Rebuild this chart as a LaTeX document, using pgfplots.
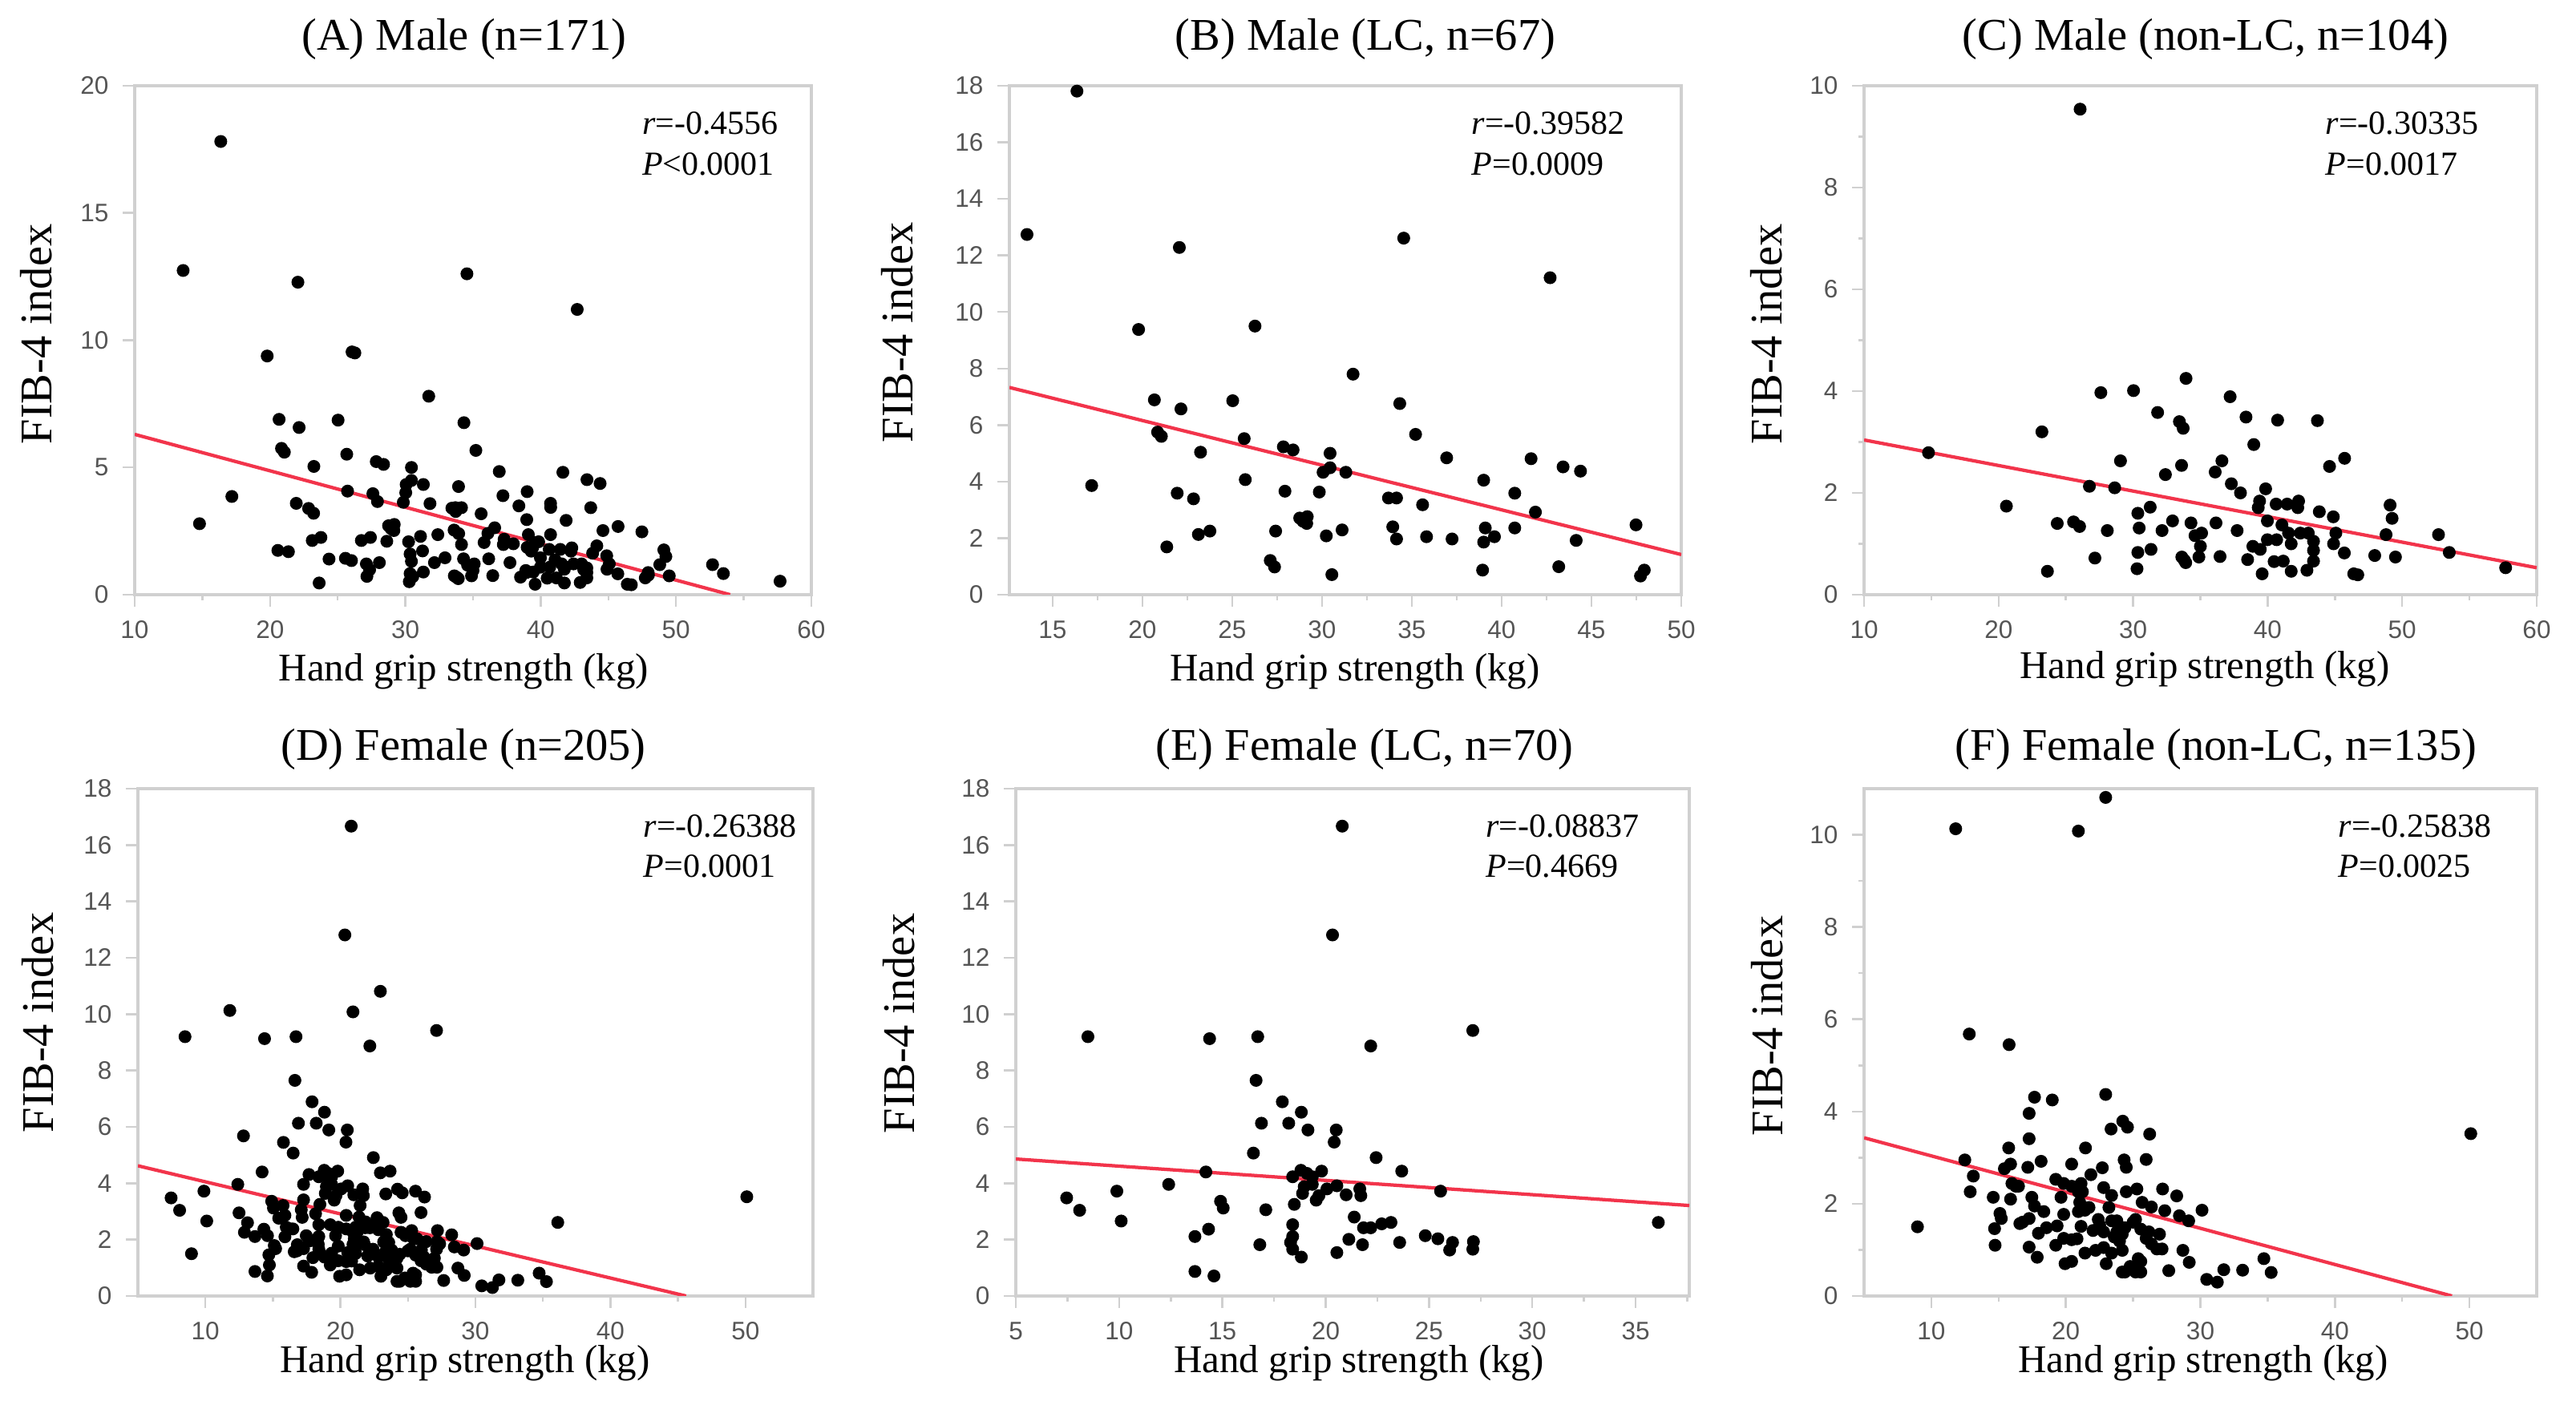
\documentclass[border=0pt]{standalone}
\usepackage{fontspec}
\setmainfont{Liberation Serif}
\newfontfamily\tickfont{Liberation Sans}
\usepackage{pgfplots}
\usepackage{pgfplotstable}
\pgfplotsset{compat=1.18}
\definecolor{framegray}{RGB}{208,208,208}
\definecolor{tickgray}{RGB}{85,85,85}
\definecolor{regred}{RGB}{242,52,75}

\pgfplotstableread{
x y
16.36 17.81
13.58 12.74
22.06 12.28
34.55 12.61
42.7 11.21
19.79 9.38
26.27 9.50
31.73 7.80
20.67 6.89
25.03 6.86
34.33 6.76
22.15 6.57
35.21 5.67
20.85 5.75
21.06 5.60
25.67 5.52
23.24 5.04
27.85 5.23
28.39 5.12
30.45 5.00
30.06 4.33
30.45 4.49
31.33 4.33
36.94 4.84
41.64 4.81
43.42 4.52
44.39 4.37
17.18 3.86
25.73 4.07
39.0 4.05
21.94 3.59
22.85 3.39
27.94 3.66
29.85 3.63
40.73 3.59
33.7 3.42
34.15 3.42
35.6 3.18
41.88 2.92
28.76 2.71
28.94 2.60
29.18 2.76
29.15 2.52
23.12 2.13
23.76 2.25
27.42 2.25
30.24 2.08
31.12 2.29
33.94 2.40
34.15 1.97
35.82 2.05
37.24 1.97
39.09 2.36
39.0 1.86
39.6 2.05
40.73 2.36
44.15 1.92
47.48 2.47
21.36 1.69
27.12 1.21
27.36 0.98
30.55 0.71
38.94 0.87
43.18 0.99
47.73 0.66
47.94 0.87
}\dataB

\pgfplotstableread{
x y
26.06 9.54
14.79 2.79
20.58 1.74
23.22 3.20
23.63 0.46
24.36 1.40
25.57 1.43
26.02 1.34
26.75 2.13
27.6 3.97
30.03 4.01
31.82 3.58
33.44 3.40
33.72 3.27
33.93 4.25
37.21 3.89
38.39 3.49
40.74 3.43
43.7 3.42
52.7 1.18
53.5 0.83
57.69 0.53
38.97 2.95
29.06 2.63
33.6 2.54
32.4 2.36
36.6 2.63
36.1 2.41
37.3 2.18
37.98 2.0
44.6 2.52
45.72 2.68
28.63 2.10
31.27 1.72
30.35 1.60
30.45 1.31
28.08 1.26
32.15 1.26
32.93 1.45
34.3 1.41
36.16 1.41
37.73 1.26
34.6 1.16
35.09 1.21
35.0 0.95
34.89 0.74
33.62 0.74
33.91 0.63
30.35 0.83
31.33 0.89
30.29 0.51
27.16 0.72
36.46 0.75
39.85 2.08
39.4 1.84
39.3 1.71
40.63 1.78
41.45 1.78
42.3 1.84
42.24 1.71
43.84 1.63
44.88 1.53
49.1 1.76
49.25 1.50
39.98 1.45
41.06 1.37
41.55 1.21
41.75 1.00
40.67 1.08
39.98 1.08
38.9 0.95
39.45 0.89
38.51 0.69
39.59 0.41
40.48 0.65
41.16 0.66
41.75 0.46
42.43 1.21
43.02 1.21
43.41 1.05
43.41 0.87
43.41 0.66
42.92 0.48
45.07 1.21
44.9 1.00
45.7 0.82
46.4 0.41
46.7 0.39
47.96 0.77
48.8 1.18
49.5 0.74
33.8 0.68
}\dataC

\pgfplotstableread{
x y
20.8 16.67
20.33 12.81
8.49 9.20
14.38 9.13
16.71 9.20
27.12 9.42
22.18 8.87
16.63 7.65
17.9 6.89
18.82 6.52
16.89 6.13
18.21 6.13
19.14 5.89
20.51 5.89
20.41 5.46
16.5 5.07
22.44 4.91
23.68 4.43
14.2 4.40
12.4 3.96
9.89 3.72
7.46 3.48
8.09 3.04
10.1 2.66
18.4 4.23
18.8 4.46
19.09 4.35
19.35 4.23
19.8 4.43
18.96 3.88
18.88 3.64
19.35 3.96
19.67 3.56
19.54 3.40
20.06 3.80
20.54 3.91
20.99 3.59
21.65 3.80
21.7 3.56
25.56 3.72
14.91 3.36
15.04 3.12
17.1 3.06
18.48 3.25
14.33 2.37
13.67 2.11
16.81 1.82
18.4 2.53
18.4 2.11
18.3 1.90
18.82 1.38
20.54 1.54
21.12 2.01
21.38 2.80
21.83 2.42
22.18 2.42
22.71 2.56
23.16 2.61
21.78 1.82
23.58 1.90
24.82 2.14
25.43 2.03
26.14 1.90
26.0 1.63
27.15 1.93
27.12 1.66
13.67 0.87
14.59 0.71
36.1 2.61
18.4 1.66
}\dataE

\pgfplotstableread{
x y
8.97 1.50
11.81 10.13
20.93 10.08
22.96 10.81
12.82 5.68
15.78 5.45
50.1 3.52
17.67 4.31
18.99 4.25
22.96 4.37
17.27 3.96
23.36 3.62
24.23 3.79
24.58 3.66
26.23 3.51
17.27 3.41
15.75 3.21
21.46 3.21
12.49 2.95
15.89 2.86
15.43 2.76
17.17 2.79
18.16 2.92
20.43 2.86
22.71 2.78
24.33 2.95
24.49 2.79
25.97 2.96
21.86 2.63
13.12 2.60
12.89 2.26
14.6 2.14
15.89 2.10
15.99 2.44
16.48 2.38
19.25 2.53
19.84 2.44
20.43 2.38
21.13 2.44
21.23 2.26
19.64 2.14
17.47 2.14
22.81 2.35
23.4 2.18
24.49 2.26
25.28 2.32
27.19 2.32
28.24 2.17
25.67 2.03
26.36 1.93
27.35 1.85
28.44 1.74
29.13 1.63
30.12 1.86
17.67 1.95
18.36 1.83
15.1 1.79
15.2 1.68
17.27 1.68
16.78 1.60
21.03 2.03
21.42 1.86
20.93 1.83
23.2 1.92
19.84 1.77
22.41 1.66
23.79 1.63
25.0 1.60
14.7 1.46
18.56 1.48
19.35 1.52
17.96 1.36
21.13 1.51
22.02 1.42
22.81 1.39
24.39 1.48
26.17 1.39
26.96 1.34
23.6 1.28
23.99 1.19
25.97 1.25
26.36 1.13
26.76 1.02
27.15 1.02
19.84 1.25
20.43 1.22
20.83 1.24
19.25 1.10
14.74 1.10
17.27 1.06
17.87 0.84
21.42 0.93
22.21 0.99
22.81 1.05
23.4 0.93
23.0 0.70
24.19 0.99
25.38 0.81
25.57 0.52
24.39 0.52
24.78 0.64
19.94 0.70
20.43 0.75
27.65 0.55
28.7 0.99
29.17 0.73
30.47 0.36
31.26 0.30
31.74 0.57
33.14 0.56
34.72 0.81
35.26 0.51
20.93 2.26
21.72 1.92
22.51 1.54
23.4 1.63
25.18 1.66
23.79 1.39
24.19 1.34
25.57 1.45
16.58 1.57
24.19 0.52
25.18 0.52
25.57 0.75
16.28 2.38
}\dataF

\pgfplotsset{
  panel/.style={
    scale only axis, anchor=south west,
    axis line style={draw=framegray, line width=0.8pt},
    tick style={draw=framegray, line width=0.5pt},
    tick align=outside, tick pos=left,
    major tick length=3pt, minor tick length=1.4pt,
    ticklabel style={font=\tickfont\fontsize{6.3}{7}\selectfont, text=tickgray},
    /pgf/number format/assume math mode=true,
    scaled ticks=false,
  },
  toprow/.style={height=127pt},
  botrow/.style={height=126.6pt},
  dots/.style={only marks, mark=*, mark size=1.4pt, draw=black, fill=black, mark options={draw=black, fill=black}},
  reg/.style={no marks, draw=regred, line width=0.85pt},
}
\newcommand{\stat}[4]{\node[anchor=base west, inner sep=0pt, font=\fontsize{8.4}{10}\selectfont] at (rel axis cs:#1,0.905) {\textit{r}=#2};
  \node[anchor=base west, inner sep=0pt, font=\fontsize{8.4}{10}\selectfont] at (rel axis cs:#1,0.825) {\textit{P}#3#4};}

\begin{document}
\begin{tikzpicture}
\useasboundingbox (0,0) rectangle (642.6pt,350.6pt);

% (A)
\begin{axis}[panel, toprow, at={(33.6pt,202.2pt)}, width=168.8pt,
  xmin=10, xmax=60, ymin=0, ymax=20,
  xtick={10,20,...,60}, minor xtick={15,25,...,55},
  ytick={0,5,...,20}]
\addplot[dots] table {\dataB};
\addplot[dots] table {\dataC};
\addplot[reg] coordinates {(10,6.3) (54,0)};
\stat{0.749}{-0.4556}{<}{0.0001}
\end{axis}

% (B)
\begin{axis}[panel, toprow, at={(251.8pt,202.2pt)}, width=167.6pt,
  xmin=12.6, xmax=50, ymin=0, ymax=18,
  xtick={15,20,...,50}, minor xtick={17.5,22.5,...,47.5},
  ytick={0,2,...,18}]
\addplot[dots] table {\dataB};
\addplot[reg] coordinates {(12.6,7.33) (50,1.42)};
\stat{0.687}{-0.39582}{=}{0.0009}
\end{axis}

% (C)
\begin{axis}[panel, toprow, at={(465pt,202.2pt)}, width=167.8pt,
  xmin=10, xmax=60, ymin=0, ymax=10,
  xtick={10,20,...,60}, minor xtick={15,25,...,55},
  ytick={0,2,...,10}, minor ytick={1,3,...,9}]
\addplot[dots] table {\dataC};
\addplot[reg] coordinates {(10,3.04) (60,0.53)};
\stat{0.685}{-0.30335}{=}{0.0017}
\end{axis}

% (D)
\begin{axis}[panel, botrow, at={(34.4pt,27.2pt)}, width=168.4pt,
  xmin=5, xmax=55, ymin=0, ymax=18,
  xtick={10,20,...,50}, minor xtick={15,25,...,45},
  ytick={0,2,...,18}]
\addplot[dots] table {\dataE};
\addplot[dots] table {\dataF};
\addplot[reg] coordinates {(5,4.62) (45.6,0)};
\stat{0.748}{-0.26388}{=}{0.0001}
\end{axis}

% (E)
\begin{axis}[panel, botrow, at={(253.4pt,27.2pt)}, width=168pt,
  xmin=5, xmax=37.6, ymin=0, ymax=18,
  xtick={5,10,...,35}, minor xtick={7.5,12.5,...,37.5},
  ytick={0,2,...,18}]
\addplot[dots] table {\dataE};
\addplot[reg] coordinates {(5,4.86) (37.6,3.21)};
\stat{0.697}{-0.08837}{=}{0.4669}
\end{axis}

% (F)
\begin{axis}[panel, botrow, at={(465pt,27.2pt)}, width=167.8pt,
  xmin=5, xmax=55, ymin=0, ymax=11,
  xtick={10,20,...,50}, minor xtick={15,25,...,45},
  ytick={0,2,...,10}, minor ytick={1,3,...,9}]
\addplot[dots] table {\dataF};
\addplot[reg] coordinates {(5,3.43) (48.7,0)};
\stat{0.704}{-0.25838}{=}{0.0025}
\end{axis}

% titles
\begin{scope}[every node/.style={font=\fontsize{11.3}{13}\selectfont, anchor=base}]
\node at (115.8pt,338.0pt) {(A) Male (n=171)};
\node at (340.6pt,338.0pt) {(B) Male (LC, n=67)};
\node at (550.2pt,338.0pt) {(C) Male (non-LC, n=104)};
\node at (115.6pt,160.8pt) {(D) Female (n=205)};
\node at (340.4pt,160.8pt) {(E) Female (LC, n=70)};
\node at (552.8pt,160.8pt) {(F) Female (non-LC, n=135)};
\end{scope}
% y labels
\begin{scope}[every node/.style={font=\fontsize{11.3}{13}\selectfont, anchor=base, rotate=90}]
\node at (12.9pt,267.2pt) {FIB-4 index};
\node at (227.6pt,267.6pt) {FIB-4 index};
\node at (444.4pt,267.2pt) {FIB-4 index};
\node at (13.3pt,95.4pt) {FIB-4 index};
\node at (228.0pt,95.2pt) {FIB-4 index};
\node at (444.6pt,94.6pt) {FIB-4 index};
\end{scope}
% x labels
\begin{scope}[every node/.style={font=\fontsize{9.8}{12}\selectfont, anchor=base}]
\node at (115.7pt,180.6pt) {Hand grip strength (kg)};
\node at (338.0pt,180.6pt) {Hand grip strength (kg)};
\node at (550.0pt,181.2pt) {Hand grip strength (kg)};
\node at (116.0pt,8.0pt) {Hand grip strength (kg)};
\node at (339.0pt,8.0pt) {Hand grip strength (kg)};
\node at (549.6pt,8.0pt) {Hand grip strength (kg)};
\end{scope}
\end{tikzpicture}
\end{document}
